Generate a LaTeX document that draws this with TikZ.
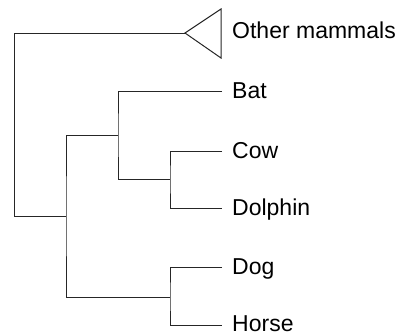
\documentclass[tikz,border=0pt]{standalone}
\usepackage{fontspec}
\setmainfont{Liberation Sans}
\begin{document}
\begin{tikzpicture}[x=1pt,y=-1pt,
  branch/.style={draw=black!85, line width=1pt},
  leaf/.style={anchor=base west, inner sep=0pt, font=\fontsize{23}{27}\selectfont}]
\useasboundingbox (0,0) rectangle (399,335);
% leaf end points
\coordinate (apex) at (185,33);
\coordinate (tritop) at (221,9);
\coordinate (tribot) at (221,58);
\coordinate (batE) at (222,91);
\coordinate (cowE) at (222,151);
\coordinate (dolE) at (222,208);
\coordinate (dogE) at (222,267);
\coordinate (horE) at (222,325);
% internal nodes
\coordinate (R) at (14,216);
\coordinate (N2) at (66,216);
\coordinate (N1) at (118,135);
\coordinate (N3) at (170,179);
\coordinate (N4) at (170,297);
% labels
\node[leaf] (other) at (232,38.8) {Other mammals};
\node[leaf] (bat) at (232,98.3) {Bat};
\node[leaf] (cow) at (232,158.3) {Cow};
\node[leaf] (dolphin) at (232,215.3) {Dolphin};
\node[leaf] (dog) at (232,274.3) {Dog};
\node[leaf] (horse) at (232,331.6) {Horse};
% tree
\draw[branch] (apex) -- (tritop) -- (tribot) -- cycle;
\draw[branch] (apex) -| (R) -- (N2);
\draw[branch] (N1) -| (N2) |- (N4);
\draw[branch] (batE) -| (N1) |- (N3);
\draw[branch] (cowE) -| (N3) |- (dolE);
\draw[branch] (dogE) -| (N4) |- (horE);
\end{tikzpicture}
\end{document}
